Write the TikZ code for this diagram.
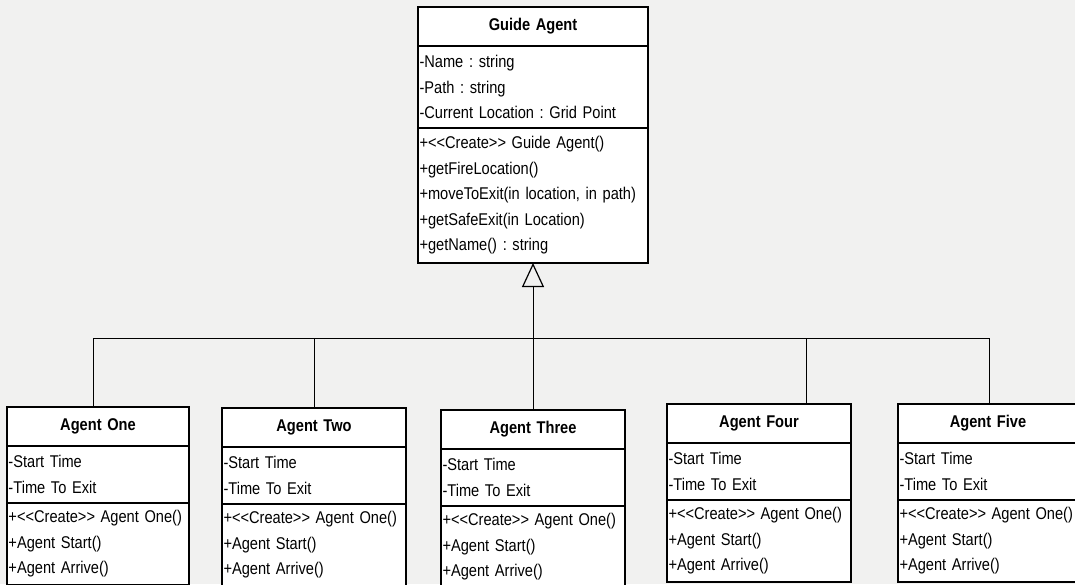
\documentclass[tikz,border=0pt]{standalone}
\usepackage{fontspec}
\setmainfont{Liberation Sans}[FakeStretch=0.86,WordSpace=0.7]
\usetikzlibrary{positioning,arrows.meta}

\definecolor{pagegray}{RGB}{241,241,240}

\tikzset{
  cls/.style={draw, fill=white, line width=1.3pt, outer sep=0pt, inner xsep=1.5pt, inner ysep=0pt},
  clsname/.style={cls, font=\frenchspacing\bfseries\fontsize{17}{25.5}\selectfont, text width=#1, align=center,
    minimum height=39pt, anchor=north west},
  clsbody/.style={cls, font=\frenchspacing\fontsize{17}{25.5}\selectfont, text width=#1, align=left},
  link/.style={line width=1pt},
  inherit/.style={link, -{Triangle[open,length=24pt,width=22pt,line width=1.2pt]}}
}

\begin{document}
\begin{tikzpicture}[x=1pt,y=-1pt]

\useasboundingbox[fill=pagegray] (0,0) rectangle (1075,584);

\node[clsname=227] (guide) at (418,7) {Guide Agent};
\node[clsbody=227, minimum height=82pt, below=0pt of guide] (guideattr)
  {-Name : string\\-Path : string\\-Current Location : Grid Point};
\node[clsbody=227, minimum height=135pt, below=0pt of guideattr] (guideops)
  {+<{}<Create>{}> Guide Agent()\\+getFireLocation()\\+moveToExit(in location, in path)\\+getSafeExit(in Location)\\+getName() : string};

\node[clsname=179] (one) at (7,407) {Agent One};
\node[clsname=181] (two) at (222,408) {Agent Two};
\node[clsname=181] (three) at (441,410) {Agent Three};
\node[clsname=181] (four) at (667,404) {Agent Four};
\node[clsname=177] (five) at (898,404) {Agent Five};

\foreach \a/\w in {one/179,two/181,three/181,four/181,five/177}{
  \node[clsbody=\w, minimum height=57pt, below=0pt of \a] (\a attr)
    {-Start Time\\-Time To Exit};
  \node[clsbody=\w, minimum height=82pt, below=0pt of \a attr] (\a ops)
    {+<{}<Create>{}> Agent One()\\+Agent Start()\\+Agent Arrive()};
}

\coordinate (bus) at (0,338);
\coordinate (onetop) at ([xshift=-5pt]one.north);
\coordinate (fourtop) at ([xshift=47pt]four.north);
\coordinate (fivetop) at ([xshift=1pt]five.north);

\draw[inherit] (three.north) -- (three.north |- guideops.south);
\draw[link] (onetop) |- (fivetop |- bus) -- (fivetop);
\draw[link] (two.north) -- (two.north |- bus);
\draw[link] (fourtop) -- (fourtop |- bus);

\end{tikzpicture}
\end{document}
